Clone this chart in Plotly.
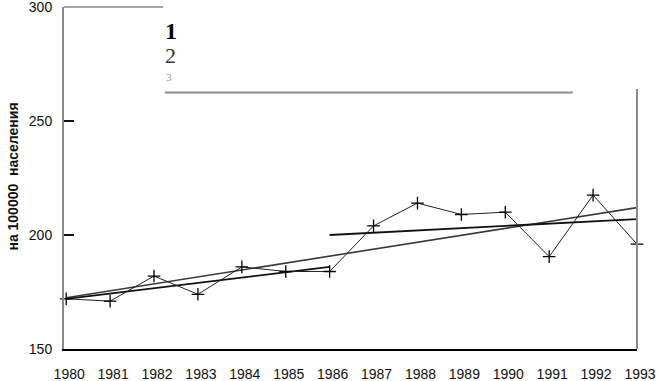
import plotly.graph_objects as go

years = list(range(1980, 1994))
rate = [172, 171, 182, 174, 186, 184, 184, 204, 214, 209, 210, 190.5, 217.5, 196]

# trend lines (end points)
trend_all_x = [1980, 1993]
trend_all_y = [172.5, 212]
trend_early_x = [1980, 1986]
trend_early_y = [172, 186]
trend_late_x = [1986, 1993]
trend_late_y = [200, 207]

y_ticks = [150, 200, 250, 300]
y_title = "на 100000  населения"
legend_labels = ["1", "2", "3"]

fig = go.Figure()
fig.add_trace(go.Scatter(x=trend_all_x, y=trend_all_y, mode="lines",
                         line=dict(color="#3a3a3a", width=1.6), showlegend=False))
fig.add_trace(go.Scatter(x=trend_early_x, y=trend_early_y, mode="lines",
                         line=dict(color="#111111", width=1.8), showlegend=False))
fig.add_trace(go.Scatter(x=trend_late_x, y=trend_late_y, mode="lines",
                         line=dict(color="#111111", width=1.8), showlegend=False))
fig.add_trace(go.Scatter(x=years, y=rate, mode="lines+markers", cliponaxis=False,
                         line=dict(color="#222222", width=1),
                         marker=dict(symbol="cross-thin", size=9,
                                     line=dict(color="#000000", width=1.3)),
                         showlegend=False))

tick_font = dict(family="Liberation Sans, Arial, sans-serif", size=14, color="#111111")

fig.update_layout(
    width=658, height=381,
    margin=dict(l=64, r=21, t=7, b=32),
    paper_bgcolor="white", plot_bgcolor="white",
    xaxis=dict(range=[1979.95, 1993], tickmode="array", tickvals=years,
               ticktext=[str(y) for y in years], showgrid=False, zeroline=False,
               showline=True, linecolor="#000000", linewidth=1.5,
               ticks="", tickfont=tick_font, ticklabelshift=3,
               ticklabelstandoff=11, ticklabeloverflow="allow", automargin=False),
    yaxis=dict(range=[150, 300], tickmode="array", tickvals=y_ticks,
               showgrid=False, zeroline=False, showline=True,
               linecolor="#8a8a8a", linewidth=2,
               ticks="inside", ticklen=10, tickwidth=2, tickcolor="#111111",
               tickfont=tick_font, ticklabelstandoff=7,
               ticklabeloverflow="allow", automargin=False),
    shapes=[
        # top frame (partial, rest hidden by legend box)
        dict(type="line", xref="x domain", yref="y domain", x0=0, x1=0.173,
             y0=1, y1=1, line=dict(color="#8a8a8a", width=1.5)),
        # right frame (partial)
        dict(type="line", xref="x domain", yref="y", x0=1, x1=1,
             y0=150, y1=264, line=dict(color="#8a8a8a", width=2)),
        # legend box bottom border
        dict(type="line", xref="x domain", yref="y", x0=0.176, x1=0.888,
             y0=262.5, y1=262.5, line=dict(color="#8a8a8a", width=2)),
    ],
    annotations=[
        dict(text=y_title, textangle=-90, xref="paper", yref="paper",
             x=-0.0885, y=0.505, xanchor="center", yanchor="middle", showarrow=False,
             font=dict(family="Liberation Sans, Arial, sans-serif", size=14,
                       color="#111111", weight="bold")),
        dict(text=legend_labels[0], xref="paper", yref="paper", x=0.172, y=0.93,
             xanchor="left", yanchor="middle", showarrow=False,
             font=dict(family="Liberation Serif, serif", size=24, color="#000000",
                       weight="bold")),
        dict(text=legend_labels[1], xref="paper", yref="paper", x=0.172, y=0.857,
             xanchor="left", yanchor="middle", showarrow=False,
             font=dict(family="Liberation Serif, serif", size=22, color="#333333")),
        dict(text=legend_labels[2], xref="paper", yref="paper", x=0.174, y=0.795,
             xanchor="left", yanchor="middle", showarrow=False,
             font=dict(family="Liberation Serif, serif", size=11, color="#999999")),
    ],
)

fig.write_html("out.html", config={"displayModeBar": False},
               post_script="document.body.style.margin='0';")
